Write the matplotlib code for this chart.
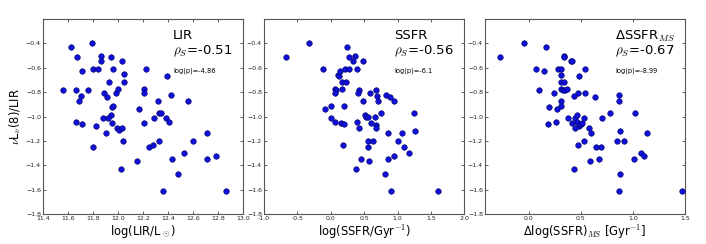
import numpy as np
import matplotlib
matplotlib.use("Agg")
import matplotlib.pyplot as plt

plt.rcParams["mathtext.fontset"] = "cm"
plt.rcParams["font.family"] = ["DejaVu Sans"]

# y values: nuL_nu(8)/LIR, read per panel
lir_x = [11.56, 11.62, 11.67, 11.71, 11.66, 11.69, 11.70, 11.66, 11.71, 11.76,
         11.79, 11.80, 11.80, 11.86, 11.86, 11.84, 11.89, 11.91, 11.93, 11.94,
         11.96, 11.95, 11.96, 11.94, 11.88, 11.92, 11.95, 11.90, 11.82, 11.98,
         12.00, 12.03, 12.05, 12.05, 11.99, 12.01, 12.03, 12.04, 12.02, 12.15,
         12.17, 12.22, 12.21, 12.21, 12.21, 12.29, 12.25, 12.28, 12.32, 12.33,
         12.34, 12.33, 12.39, 12.38, 12.41, 12.42, 12.43, 12.36, 12.48, 12.53,
         12.56, 12.60, 12.71, 12.71, 12.78, 12.86]
lir_y = [-0.78, -0.43, -0.51, -0.63, -0.78, -0.87, -0.83, -1.04, -1.06, -0.78,
         -0.40, -0.61, -1.25, -0.50, -0.54, -0.61, -0.81, -0.84, -0.72, -0.51,
         -0.61, -0.92, -0.91, -0.99, -1.01, -1.01, -1.05, -1.13, -1.08, -0.81,
         -0.77, -0.54, -0.65, -0.72, -1.09, -1.11, -1.09, -1.20, -1.43, -1.36,
         -0.94, -0.61, -0.77, -0.81, -1.05, -1.01, -1.25, -1.23, -0.87, -0.97,
         -0.97, -1.20, -0.67, -1.01, -1.04, -0.82, -1.35, -1.61, -1.47, -1.30,
         -0.87, -1.20, -1.13, -1.35, -1.32, -1.61]

ssfr_x = [-0.67, -0.33, -0.11, -0.09, 0.00, 0.01, 0.06, 0.11, 0.12, 0.14,
          0.07, 0.08, 0.06, 0.17, 0.23, 0.17, 0.20, 0.15, 0.20, 0.19,
          0.21, 0.27, 0.24, 0.28, 0.33, 0.37, 0.40, 0.49, 0.43, 0.41,
          0.48, 0.59, 0.51, 0.53, 0.56, 0.60, 0.67, 0.68, 0.69, 0.71,
          0.75, 0.68, 0.68, 0.40, 0.42, 0.56, 0.64, 0.56, 0.46, 0.58,
          0.38, 0.83, 0.89, 0.94, 0.86, 1.06, 1.01, 1.10, 1.17, 0.85,
          0.94, 0.81, 0.90, 1.24, 1.26, 1.60]
ssfr_y = [-0.51, -0.40, -0.61, -0.94, -0.91, -1.01, -1.04, -0.66, -0.67, -0.63,
          -0.77, -0.78, -0.81, -0.72, -0.72, -0.77, -0.91, -1.05, -1.06, -1.23,
          -0.61, -0.61, -0.43, -0.51, -0.54, -0.50, -0.61, -0.54, -0.78, -0.81,
          -0.87, -0.81, -0.99, -1.00, -1.00, -1.05, -1.00, -0.78, -0.83, -0.87,
          -0.97, -1.07, -1.09, -1.04, -1.09, -1.20, -1.20, -1.25, -1.35, -1.36,
          -1.43, -0.82, -0.84, -0.87, -1.13, -1.13, -1.20, -1.25, -1.30, -1.35,
          -1.32, -1.47, -1.61, -0.97, -1.12, -1.61]

dms_x = [-0.28, -0.05, 0.16, 0.07, 0.15, 0.28, 0.31, 0.31, 0.31, 0.34,
         0.31, 0.33, 0.35, 0.37, 0.10, 0.24, 0.31, 0.31, 0.19, 0.27,
         0.18, 0.26, 0.34, 0.34, 0.40, 0.41, 0.43, 0.47, 0.54, 0.48,
         0.54, 0.38, 0.44, 0.46, 0.41, 0.46, 0.48, 0.50, 0.44, 0.51,
         0.53, 0.47, 0.53, 0.43, 0.58, 0.60, 0.70, 0.78, 0.64, 0.69,
         0.59, 0.67, 0.63, 0.86, 0.86, 0.87, 0.85, 0.91, 1.01, 1.02,
         1.13, 1.08, 1.10, 0.87, 0.86, 1.47]
dms_y = [-0.51, -0.40, -0.43, -0.61, -0.63, -0.61, -0.61, -0.66, -0.72, -0.72,
         -0.77, -0.78, -0.78, -0.77, -0.78, -0.81, -0.87, -0.91, -0.92, -0.94,
         -1.06, -1.04, -0.50, -0.51, -0.54, -0.545, -0.83, -0.81, -0.81, -0.67,
         -0.61, -1.01, -1.01, -0.99, -1.05, -1.04, -1.08, -1.06, -1.09, -1.05,
         -1.01, -1.23, -1.20, -1.43, -1.09, -1.13, -1.01, -0.97, -1.25, -1.25,
         -1.36, -1.35, -0.84, -0.82, -0.87, -1.12, -1.20, -1.20, -1.35, -0.97,
         -1.13, -1.30, -1.32, -1.47, -1.61, -1.61]

names = ["LIR", "SSFR", "\u0394SSFR$_{MS}$"]
rho = ["-0.51", "-0.56", "-0.67"]
logp = ["-4.86", "-6.1", "-8.99"]
xlabels = [r"log(LIR/L$_\odot$)", r"log(SSFR/Gyr$^{-1}$)",
           "\u0394log(SSFR)$_{MS}$ [Gyr$^{-1}$]"]
xlims = [(11.4, 13.0), (-1.0, 2.0), (-0.42, 1.5)]
xticks = [np.arange(11.4, 13.01, 0.2), np.arange(-1.0, 2.01, 0.5),
          np.arange(0.0, 1.51, 0.5)]
yticks = np.arange(-1.8, -0.39, 0.2)

fig = plt.figure(figsize=(7.06, 2.44), dpi=100)
lefts = [43 / 706, 264 / 706, 485 / 706]
data = [(lir_x, lir_y), (ssfr_x, ssfr_y), (dms_x, dms_y)]

for i, (xs, ys) in enumerate(data):
    ax = fig.add_axes([lefts[i], 0.1217, 0.2837, 0.8004])
    ax.scatter(xs, ys, s=16, c="#1010d8", edgecolors="#000060",
               linewidths=0.4, zorder=3)
    ax.set_xlim(*xlims[i])
    ax.set_ylim(-1.8, -0.2)
    ax.set_xticks(xticks[i])
    ax.set_yticks(yticks)
    ax.set_xticklabels(["%.1f" % t for t in xticks[i]])
    ax.set_yticklabels(["\u2212%.1f" % abs(t) for t in yticks])
    ax.tick_params(direction="in", top=True, right=True, length=2.5,
                   width=0.5, labelsize=4.5, pad=1.5, colors="#222222")
    for sp in ax.spines.values():
        sp.set_linewidth(0.8)
        sp.set_color("#555555")
    ax.set_xlabel(xlabels[i], fontsize=8.3, labelpad=1)
    ax.text(0.65, 0.913, names[i], transform=ax.transAxes, fontsize=9.5,
            va="center", ha="left")
    ax.text(0.65, 0.833, r"$\rho_S$=" + rho[i], transform=ax.transAxes,
            fontsize=9.5, va="center", ha="left")
    ax.text(0.65, 0.734, "log(p)=" + logp[i], transform=ax.transAxes,
            fontsize=4.8, va="center", ha="left")
    if i == 0:
        ax.set_ylabel(r"$\nu$L$_\nu$(8)/LIR", fontsize=8.3, labelpad=2)

fig.savefig("out.png", dpi=100)
